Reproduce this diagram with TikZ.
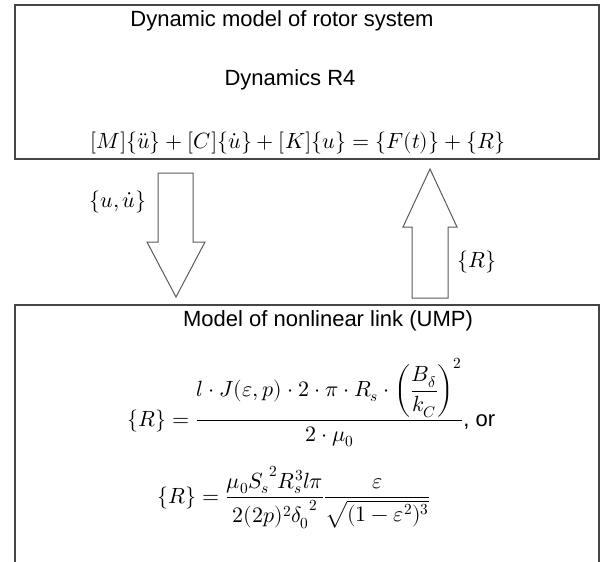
\documentclass[tikz,border=0pt]{standalone}
\usepackage{amsmath}
\usepackage{fontspec}
\usepackage{unicode-math}
\setmainfont{Liberation Sans}
\setmathfont{Latin Modern Math}
\definecolor{framegray}{HTML}{454545}
\definecolor{arrowgray}{HTML}{5A5A5A}
\tikzset{
  framebox/.style={draw=framegray, line width=2pt},
  blockarrow/.style={draw=arrowgray, line width=1pt, fill=white, line join=miter},
  txt/.style={inner sep=0pt, font=\fontsize{22}{26}\selectfont},
}
\begin{document}
\begin{tikzpicture}[x=1pt,y=-1pt]
                \useasboundingbox (0,0) rectangle (608,562);
                %%%  Upper block: rotor dynamics
                \node (rotorbox) [framebox, minimum width=584pt, minimum height=154pt, inner sep=0pt] at (307,82) {};
                \node (rotortitle) [txt] at (282,21) {Dynamic model of rotor system};
                \node (rotorname) [txt] at (290,80) {Dynamics R4};
                \node (rotoreq) [txt] at (298,143) {$[M]\{\ddot{u}\}+[C]\{\dot{u}\}+[K]\{u\}=\{F(t)\}+\{R\}$};
                %%%  Lower block: nonlinear link, open at the bottom
                \coordinate (linkSW) at (15,562);
                \coordinate (linkNW) at (15,305);
                \coordinate (linkNE) at (599,305);
                \coordinate (linkSE) at (599,562);
                \draw[framebox] (linkSW) -- (linkNW) -- (linkNE) -- (linkSE);
                \node (linktitle) [txt] at (328,321) {Model of nonlinear link (UMP)};
                \node (umpone) [txt, anchor=base west] at (127,426) {$\{R\}=\dfrac{l\cdot J(\varepsilon,p)\cdot 2\cdot\pi\cdot R_s\cdot\left(\dfrac{B_\delta}{k_C}\right)^2}{2\cdot\mu_0}$, or};
                \node (umptwo) [txt, anchor=base west] at (157,503) {$\{R\}=\dfrac{\mu_0{S_s}^2R_s^3l\pi}{2(2p)^2{\delta_0}^2}\dfrac{\varepsilon}{\sqrt{(1-\varepsilon^2)^3}}$};
                %%%  Block arrows between the two models
                \draw[blockarrow] (158,173) -- (193,173) -- (193,242) -- (205,242) -- (176,297) -- (147,242) -- (158,242) -- cycle;
                \draw[blockarrow] (412,298) -- (448,298) -- (448,227) -- (457,227) -- (430,169) -- (403,227) -- (412,227) -- cycle;
                %%%  Arrow labels
                \node (statelabel) [txt] at (118,202) {$\{u,\dot{u}\}$};
                \node (forcelabel) [txt] at (477,262) {$\{R\}$};
\end{tikzpicture}
\end{document}
